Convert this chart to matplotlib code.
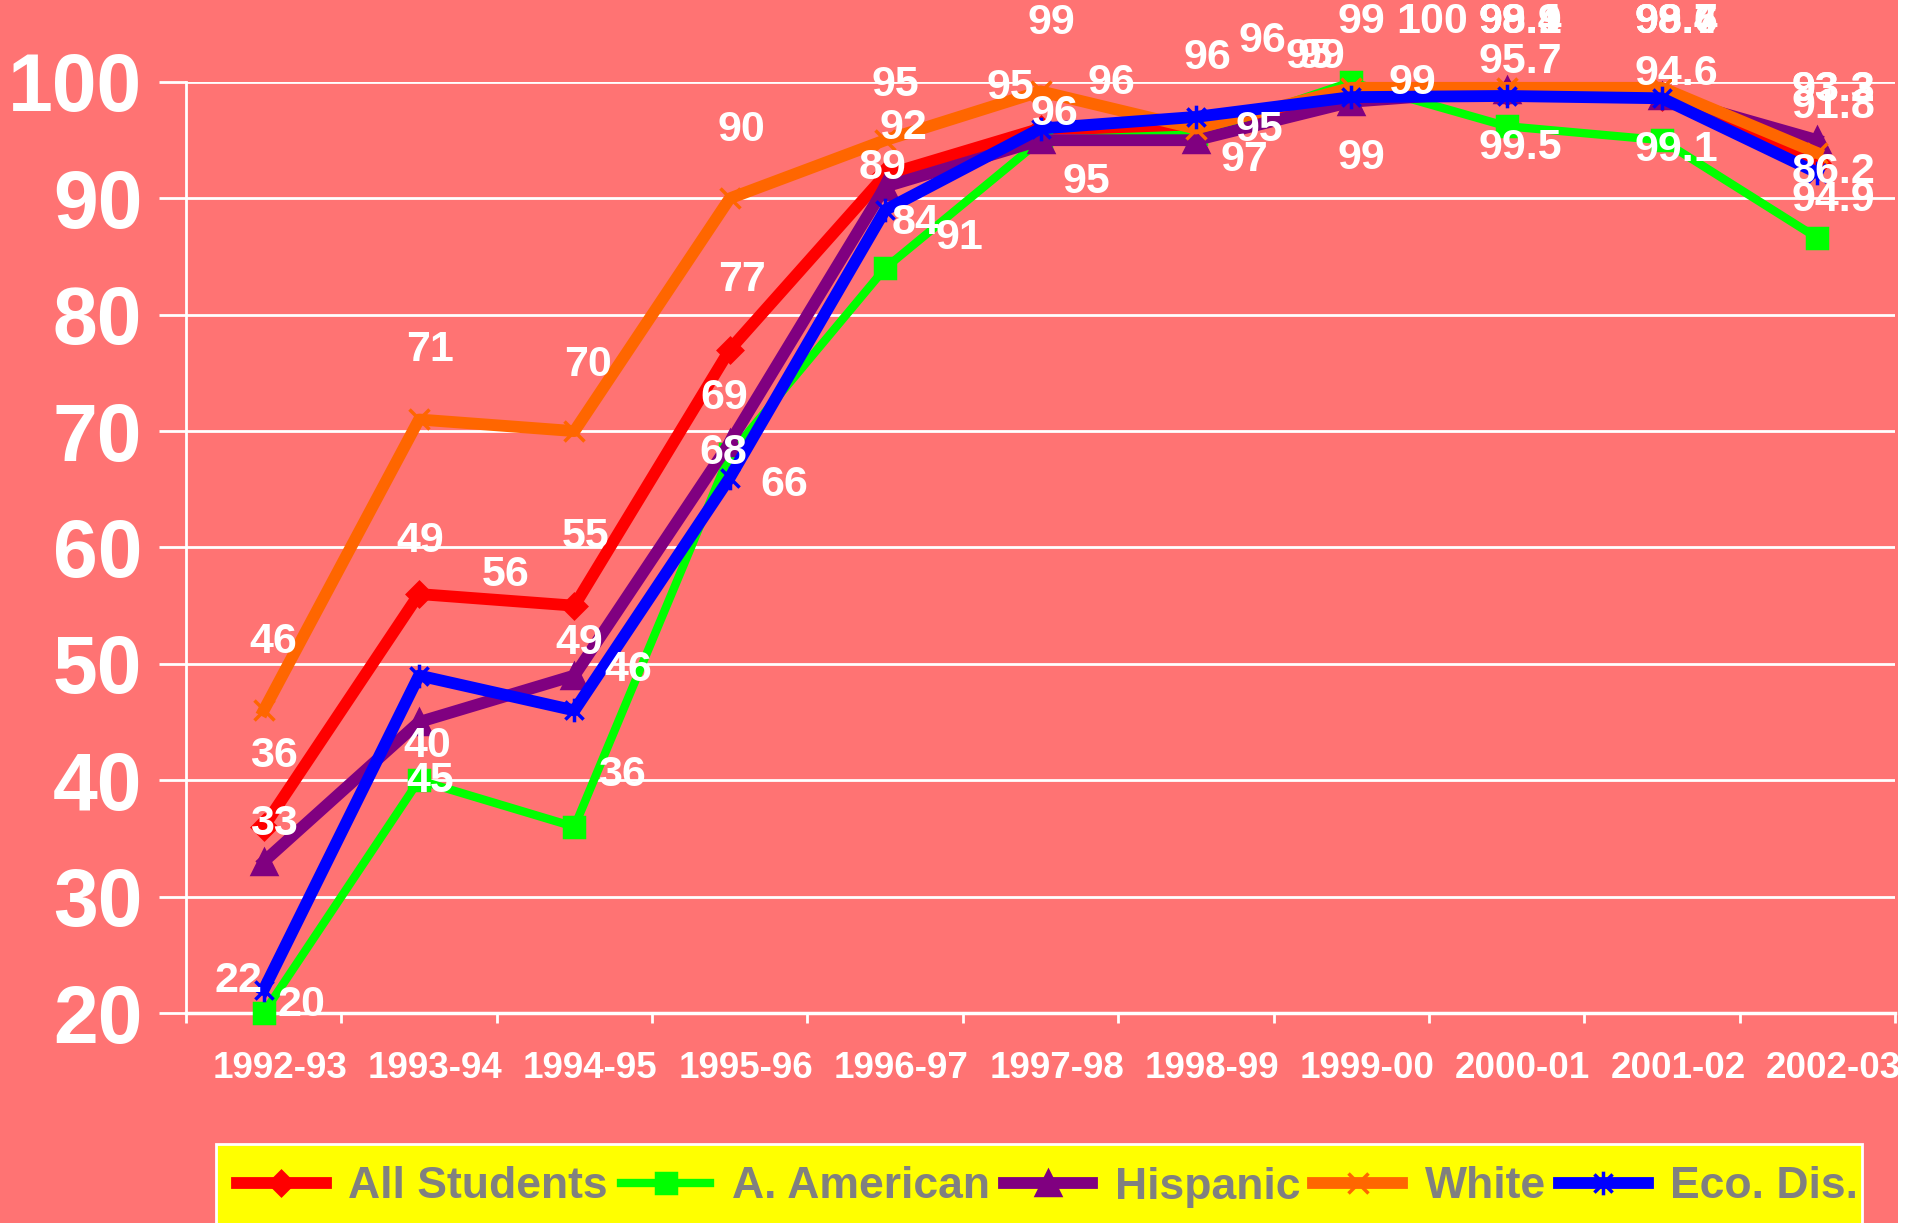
import matplotlib
matplotlib.use("Agg")
import matplotlib.pyplot as plt
import matplotlib.transforms as mtransforms
from matplotlib.path import Path
from matplotlib.patches import Rectangle
import numpy as np

plt.rcParams['font.family'] = ['Liberation Sans', 'DejaVu Sans']

# school years on the category axis
years = ['1992-93', '1993-94', '1994-95', '1995-96', '1996-97', '1997-98',
         '1998-99', '1999-00', '2000-01', '2001-02', '2002-03']

# series values (percent passing)
all_students = [36, 56, 55, 77, 92, 96, 96, 99, 99.1, 98.7, 93.0]
a_american = [20, 40, 36, 68, 84, 95, 95.5, 100, 96.2, 95.0, 86.6]
hispanic = [33, 45, 49, 69, 91, 95, 95, 98.3, 99.3, 98.8, 95.0]
white = [46, 71, 70, 90, 95, 99.2, 96, 99.5, 99.5, 99.5, 93.9]
eco_dis = [22, 49, 46, 66, 89, 96, 97, 98.7, 98.8, 98.6, 92.2]

# data label texts as printed on the chart
all_students_lbl = ['36', '56', '55', '77', '92', '96', '96', '99', '99.1', '98.7', '93.2']
a_american_lbl = ['20', '40', '36', '68', '84', '95', '95', '100', '95.7', '94.6', '86.2']
hispanic_lbl = ['33', '45', '49', '69', '91', '95', '95', '99', '99.4', '99.4', '94.9']
white_lbl = ['46', '71', '70', '90', '95', '99', '96', '99', '99.5', '99.1', '93.3']
eco_dis_lbl = ['22', '49', '46', '66', '89', '96', '97', '99', '98.9', '98.6', '91.8']

# label offsets from their points (pixels, x right / y up)
red_off = [(10, 71), (87, 19), (11, 69), (12, 70), (18, 47), (14, 15), (67, 88), (61, 11), (14, 70), (14, 75), (16, 73)]
green_off = [(38, 8), (8, 34), (47, 52), (-6, 1), (30, 45), (-30, 52), (64, 4), (81, 60), (14, 64), (14, 66), (16, 66)]
purple_off = [(10, 38), (11, -59), (5, 33), (-6, 45), (74, -51), (46, -42), (114, 83), (-30, 45), (14, 68), (14, 74), (16, -60)]
orange_off = [(10, 68), (11, 69), (14, 66), (12, 68), (10, 55), (11, 68), (12, 71), (10, 66), (14, -60), (14, -62), (16, 63)]
blue_off = [(-25, 9), (1, 135), (54, 40), (54, -7), (-3, 42), (71, 46), (49, -43), (10, -61), (14, 74), (14, 76), (16, 66)]

pink = '#FF7373'

# excel style star marker: an x with a vertical bar
star = Path([(-1, -1), (1, 1), (-1, 1), (1, -1), (0, -1.3), (0, 1.3)],
            [Path.MOVETO, Path.LINETO, Path.MOVETO, Path.LINETO, Path.MOVETO, Path.LINETO])

series = [
    ('All Students', all_students, all_students_lbl, red_off, '#FF0000', 'D', 12, 8.5),
    ('A. American', a_american, a_american_lbl, green_off, '#00FF00', 's', 14, 6),
    ('Hispanic', hispanic, hispanic_lbl, purple_off, '#800080', '^', 17, 8.5),
    ('White', white, white_lbl, orange_off, '#FF6600', 'x', 15, 8.5),
    ('Eco. Dis.', eco_dis, eco_dis_lbl, blue_off, '#0000FF', star, 17, 8.5),
]

fig = plt.figure(figsize=(19.19, 12.23), dpi=100, facecolor=pink)
ax = fig.add_axes([186 / 1919, 210 / 1223, 1709 / 1919, 931 / 1223])
ax.set_facecolor(pink)

x = np.arange(len(years))
handles = []
for name, vals, lbls, offs, col, mk, ms, lw in series:
    h, = ax.plot(x, vals, color=col, lw=lw, marker=mk, markersize=ms,
                 markeredgewidth=2.5, markerfacecolor=col, markeredgecolor=col,
                 clip_on=False, label=name, zorder=3)
    handles.append(h)

for name, vals, lbls, offs, col, mk, ms, lw in series:
    for i in range(len(years)):
        ax.annotate(lbls[i], (x[i], vals[i]), xytext=offs[i], textcoords='offset pixels',
                    ha='center', va='center', color='white', fontsize=31,
                    fontweight='bold', zorder=5, annotation_clip=False)

ax.set_xlim(-0.5, len(years) - 0.5)
ax.set_ylim(20, 100)
ax.set_yticks(np.arange(20, 101, 10))
ax.yaxis.grid(True, color='white', lw=2)
ax.set_axisbelow(True)
ax.set_xticks(x)
ax.set_xticklabels(years)
ax.set_xticks(np.arange(-0.5, len(years), 1), minor=True)
ax.tick_params(axis='x', which='major', length=0, pad=27, labelsize=26.5, labelcolor='white')
ax.tick_params(axis='x', which='minor', length=7, width=2, color='white', direction='out')
ax.tick_params(axis='y', length=19.5, width=2, color='white', pad=12, labelsize=58, labelcolor='white')
shift = mtransforms.ScaledTranslation(16 / 100, 0, fig.dpi_scale_trans)
for lab in ax.get_xticklabels():
    lab.set_fontweight('bold')
    lab.set_transform(lab.get_transform() + shift)
for lab in ax.get_yticklabels():
    lab.set_fontweight('bold')

for s in ['top', 'right']:
    ax.spines[s].set_visible(False)
ax.spines['left'].set_color('white')
ax.spines['left'].set_linewidth(2)
ax.spines['bottom'].set_color('white')
ax.spines['bottom'].set_linewidth(2.5)

# yellow legend box running off the bottom of the image
fig.add_artist(Rectangle((216 / 1919, -0.01), (1862 - 216) / 1919, (1223 - 1144) / 1223 + 0.01,
                         transform=fig.transFigure, facecolor='#FFFF00', edgecolor='white',
                         lw=2, zorder=5))
leg = fig.legend(handles, [h.get_label() for h in handles], loc='center left',
                 bbox_to_anchor=(237 / 1919, 1 - 1187 / 1223), ncol=5, frameon=False,
                 borderpad=0, borderaxespad=0, handlelength=2.0, handletextpad=0.5,
                 columnspacing=0.3, prop={'size': 32, 'weight': 'bold'})
leg.set_zorder(6)
for t in leg.get_texts():
    t.set_color('#808080')

# white strip on the right edge
fig.add_artist(Rectangle((1898 / 1919, 0), 1, 1, transform=fig.transFigure,
                         facecolor='white', edgecolor='none', zorder=10))

fig.savefig('out.png', dpi=100, facecolor=pink)
